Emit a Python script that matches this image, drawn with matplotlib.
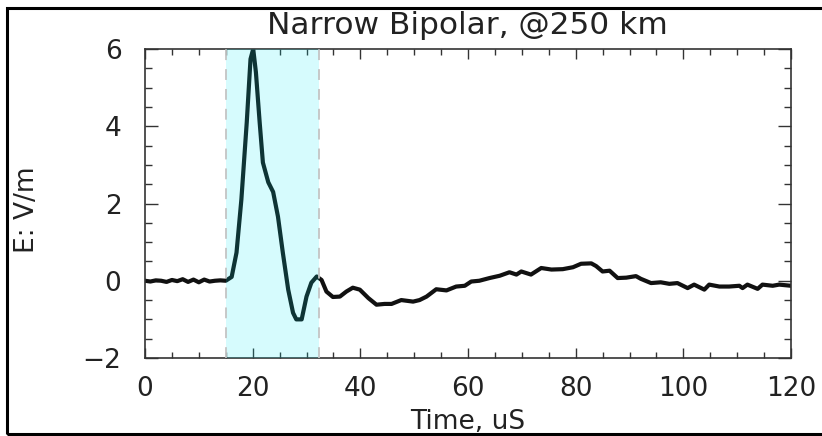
import matplotlib
matplotlib.use("Agg")
import matplotlib.pyplot as plt
from matplotlib.patches import Rectangle
from matplotlib.ticker import MultipleLocator

# waveform (time in us, field in V/m)
time_us = [
    0, 1, 2, 3, 4, 5, 6, 7, 8, 9, 10, 11, 12, 13, 14, 15,
    16.1, 17.0, 17.9, 18.9, 19.6, 20.1, 20.6, 21.3, 21.9, 22.9, 23.8, 24.7,
    25.6, 26.6, 27.5, 28.1, 29.1, 30.0, 30.9, 31.9, 32.8, 33.7, 34.9, 36.2,
    37.4, 38.6, 39.9, 41.5, 43.0, 44.5, 45.8, 47.6, 49.8, 51.0, 52.3, 54.1,
    56.0, 57.8, 59.4, 60.6, 62.1, 64.0, 65.9, 67.7, 69.0, 69.9, 71.7, 73.6,
    75.5, 77.6, 79.5, 81.0, 82.9, 83.8, 85.0, 86.3, 87.8, 89.4, 91.2, 92.1,
    94.0, 95.8, 97.4, 98.9, 100.8, 102.0, 103.9, 104.8, 106.7, 108.5, 110.4,
    111.0, 111.9, 113.8, 114.7, 116.6, 117.8, 120.0,
]
field_vm = [
    0.0, -0.02, 0.01, 0.0, -0.03, 0.02, -0.01, 0.04, -0.03, 0.03, -0.04, 0.03,
    -0.02, 0.0, 0.01, 0.0,
    0.1, 0.73, 2.1, 4.1, 5.74, 6.0, 5.4, 4.1, 3.06, 2.55, 2.3, 1.66,
    0.73, -0.23, -0.83, -1.0, -1.0, -0.41, -0.05, 0.11, 0.02, -0.28, -0.42, -0.41,
    -0.28, -0.18, -0.23, -0.45, -0.62, -0.6, -0.6, -0.5, -0.54, -0.5, -0.41, -0.22,
    -0.25, -0.15, -0.13, -0.02, 0.0, 0.07, 0.13, 0.22, 0.16, 0.24, 0.16, 0.33,
    0.29, 0.30, 0.35, 0.44, 0.45, 0.38, 0.24, 0.26, 0.07, 0.08, 0.12, 0.05,
    -0.06, -0.04, -0.08, -0.06, -0.19, -0.1, -0.23, -0.1, -0.15, -0.15, -0.13,
    -0.19, -0.1, -0.21, -0.1, -0.13, -0.1, -0.13,
]
window_us = [15.0, 32.3]

title = "Narrow Bipolar, @250 km"
xlabel = "Time, uS"
ylabel = "E: V/m"

plt.rcParams["font.family"] = ["DejaVu Sans"]

fig = plt.figure(figsize=(8.22, 4.36), dpi=100)
ax = fig.add_axes([0.1764, 0.1789, 0.7859, 0.7087])

ax.plot(time_us, field_vm, color="#111111", linewidth=3.0, zorder=2)
ax.axvspan(window_us[0], window_us[1], color=(0.0, 0.92, 0.96), alpha=0.16,
           linewidth=0, zorder=3)
for xv in window_us:
    ax.axvline(xv, color="#c4c4c4", linewidth=1.3, linestyle=(0, (6, 5)), zorder=4)

ax.set_xlim(0, 120)
ax.set_ylim(-2, 6)
ax.xaxis.set_major_locator(MultipleLocator(20))
ax.xaxis.set_minor_locator(MultipleLocator(5))
ax.yaxis.set_major_locator(MultipleLocator(2))
ax.yaxis.set_minor_locator(MultipleLocator(0.5))

ax.tick_params(which="both", direction="in", top=True, right=True,
               color="#333333", width=1.0, labelcolor="#222222")
ax.tick_params(axis="x", which="major", length=7, pad=13, labelsize=19)
ax.tick_params(axis="x", which="minor", length=4)
ax.tick_params(axis="y", which="major", length=9.5, pad=17, labelsize=19)
ax.tick_params(axis="y", which="minor", length=5)
for spine in ax.spines.values():
    spine.set_color("#333333")
    spine.set_linewidth(1.2)

ax.set_xlabel(xlabel, fontsize=19, va="baseline", color="#222222")
ax.xaxis.set_label_coords(0.5, -0.23)
ax.set_ylabel(ylabel, fontsize=19, va="center", color="#222222")
ax.yaxis.set_label_coords(-0.183, 0.48)

fig.text(467 / 822, 1 - 34 / 436, title, fontsize=22.5, ha="center", va="baseline",
         color="#222222")

# frame around the whole plot, running off the right edge
fig.patches.append(Rectangle((0.0085, 0.0046), 1.05, 0.977, transform=fig.transFigure,
                             fill=False, edgecolor="black", linewidth=2.2))

fig.savefig("out.png", dpi=100)
